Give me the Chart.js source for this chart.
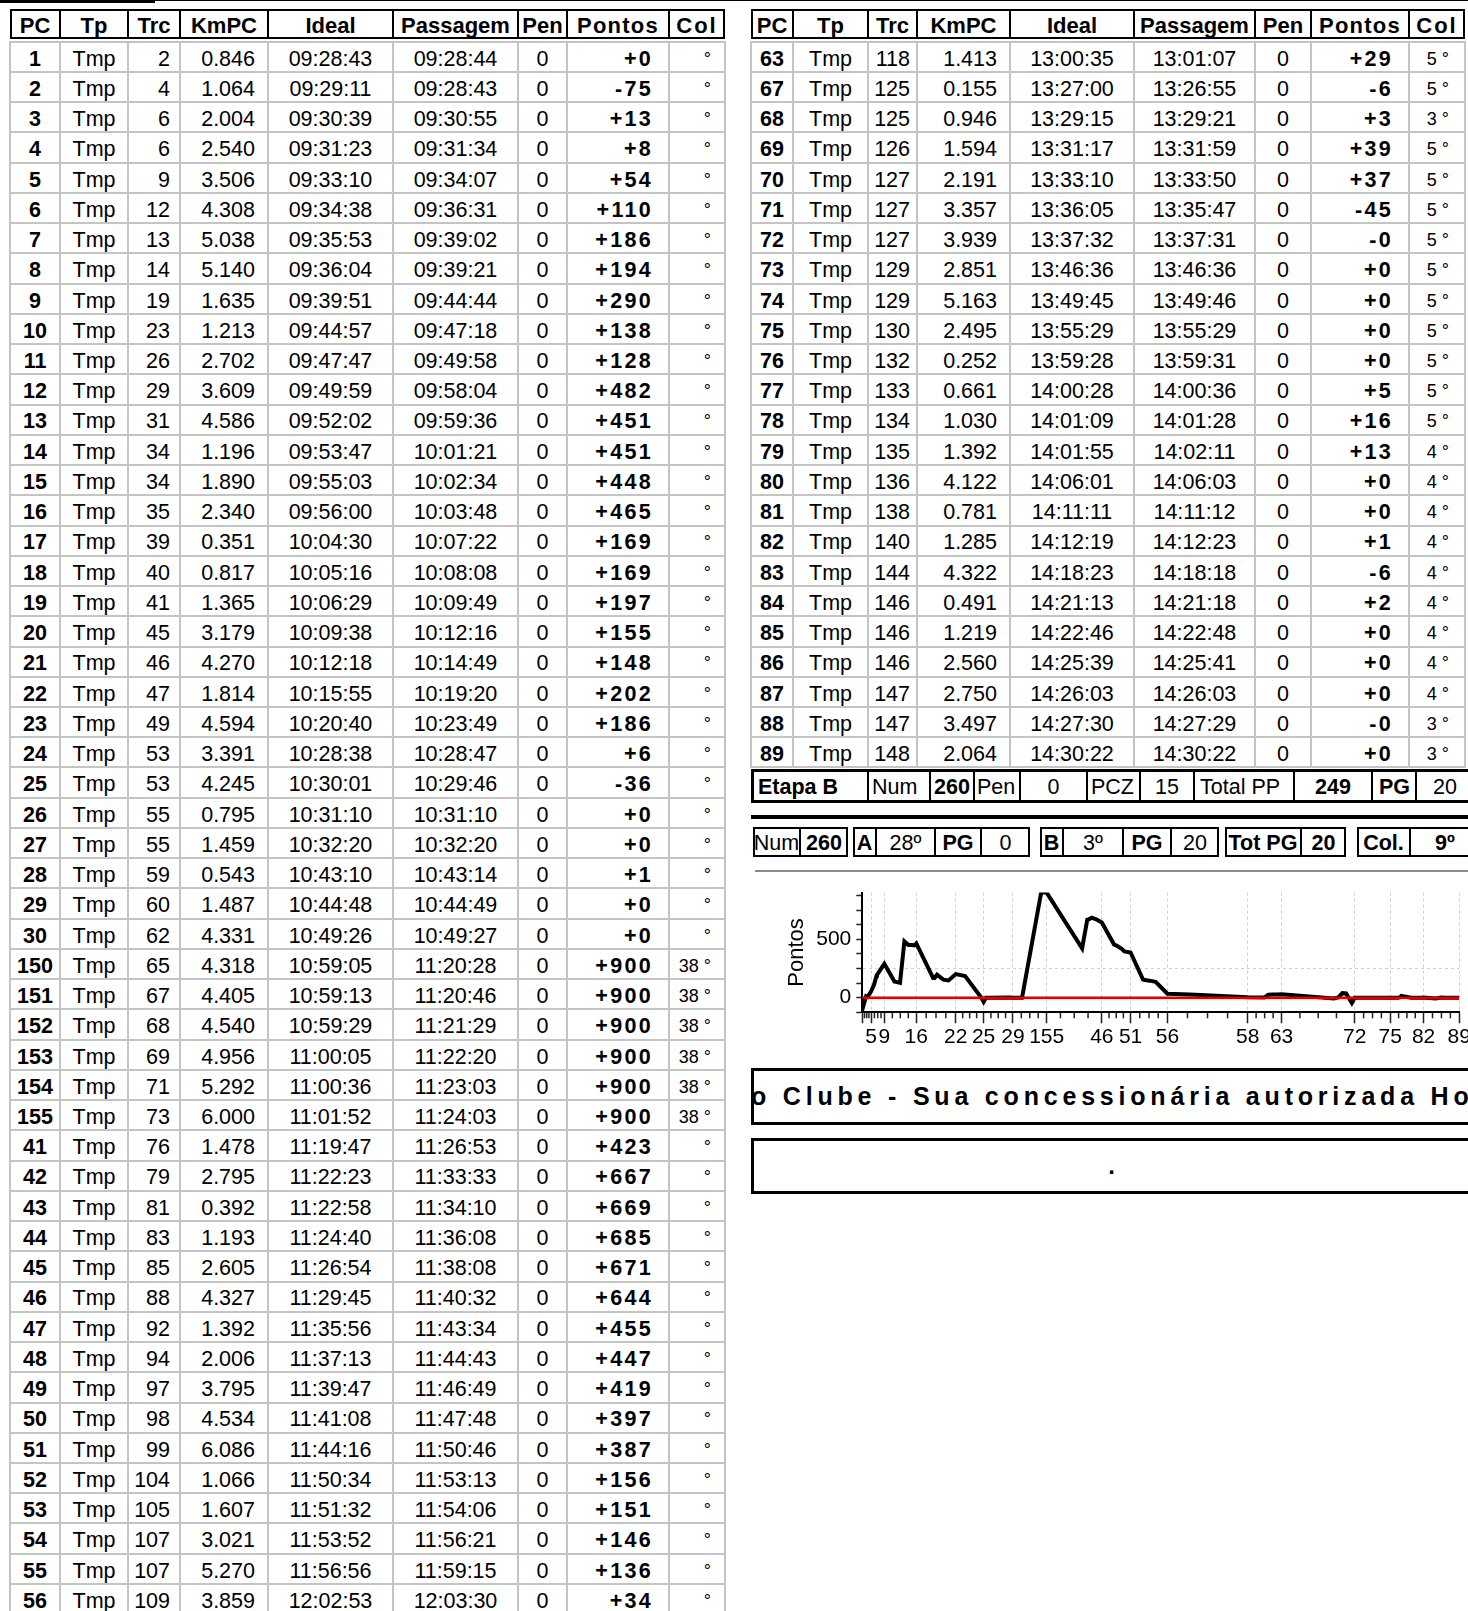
<!DOCTYPE html>
<html>
<head>
<meta charset="utf-8">
<script src="https://cdn.jsdelivr.net/npm/chart.js@4.4.1/dist/chart.umd.min.js"></script>
<style>
html,body{margin:0;padding:0;width:1468px;height:1611px;overflow:hidden;background:#fff;font-family:"Liberation Sans",Arial,sans-serif;color:#000}
.a{position:absolute;box-sizing:border-box}
.t{display:flex;align-items:center;white-space:nowrap}
#chartBox{position:absolute;left:740px;top:875px;width:770px;height:185px}
</style>
</head>
<body>
<div id="chartBox"><canvas id="chart"></canvas></div>
<script>
// ---------- DATA ----------
const leftPC = [1,2,3,4,5,6,7,8,9,10,11,12,13,14,15,16,17,18,19,20,21,22,23,24,25,26,27,28,29,30,150,151,152,153,154,155,41,42,43,44,45,46,47,48,49,50,51,52,53,54,55,56];
const leftTrc = [2,4,6,6,9,12,13,14,19,23,26,29,31,34,34,35,39,40,41,45,46,47,49,53,53,55,55,59,60,62,65,67,68,69,71,73,76,79,81,83,85,88,92,94,97,98,99,104,105,107,107,109];
const leftKm = ['0.846','1.064','2.004','2.540','3.506','4.308','5.038','5.140','1.635','1.213','2.702','3.609','4.586','1.196','1.890','2.340','0.351','0.817','1.365','3.179','4.270','1.814','4.594','3.391','4.245','0.795','1.459','0.543','1.487','4.331','4.318','4.405','4.540','4.956','5.292','6.000','1.478','2.795','0.392','1.193','2.605','4.327','1.392','2.006','3.795','4.534','6.086','1.066','1.607','3.021','5.270','3.859'];
const leftIdeal = ['09:28:43','09:29:11','09:30:39','09:31:23','09:33:10','09:34:38','09:35:53','09:36:04','09:39:51','09:44:57','09:47:47','09:49:59','09:52:02','09:53:47','09:55:03','09:56:00','10:04:30','10:05:16','10:06:29','10:09:38','10:12:18','10:15:55','10:20:40','10:28:38','10:30:01','10:31:10','10:32:20','10:43:10','10:44:48','10:49:26','10:59:05','10:59:13','10:59:29','11:00:05','11:00:36','11:01:52','11:19:47','11:22:23','11:22:58','11:24:40','11:26:54','11:29:45','11:35:56','11:37:13','11:39:47','11:41:08','11:44:16','11:50:34','11:51:32','11:53:52','11:56:56','12:02:53'];
const leftPass = ['09:28:44','09:28:43','09:30:55','09:31:34','09:34:07','09:36:31','09:39:02','09:39:21','09:44:44','09:47:18','09:49:58','09:58:04','09:59:36','10:01:21','10:02:34','10:03:48','10:07:22','10:08:08','10:09:49','10:12:16','10:14:49','10:19:20','10:23:49','10:28:47','10:29:46','10:31:10','10:32:20','10:43:14','10:44:49','10:49:27','11:20:28','11:20:46','11:21:29','11:22:20','11:23:03','11:24:03','11:26:53','11:33:33','11:34:10','11:36:08','11:38:08','11:40:32','11:43:34','11:44:43','11:46:49','11:47:48','11:50:46','11:53:13','11:54:06','11:56:21','11:59:15','12:03:30'];
const leftPontos = ['+0','-75','+13','+8','+54','+110','+186','+194','+290','+138','+128','+482','+451','+451','+448','+465','+169','+169','+197','+155','+148','+202','+186','+6','-36','+0','+0','+1','+0','+0','+900','+900','+900','+900','+900','+900','+423','+667','+669','+685','+671','+644','+455','+447','+419','+397','+387','+156','+151','+146','+136','+34'];
const leftCol = ['°','°','°','°','°','°','°','°','°','°','°','°','°','°','°','°','°','°','°','°','°','°','°','°','°','°','°','°','°','°','38 °','38 °','38 °','38 °','38 °','38 °','°','°','°','°','°','°','°','°','°','°','°','°','°','°','°','°'];

// PCs below the visible part of the left table
const hiddenPC = [57,58,59,60,61,62];
const hiddenIdeal = ['12:14:16','12:43:25','12:51:55','12:53:56','12:56:12','12:58:14'];
const hiddenPontos = ['+28','+3','+2','+26','+28','+28'];

const rightPC = [63,67,68,69,70,71,72,73,74,75,76,77,78,79,80,81,82,83,84,85,86,87,88,89];
const rightTrc = [118,125,125,126,127,127,127,129,129,130,132,133,134,135,136,138,140,144,146,146,146,147,147,148];
const rightKm = ['1.413','0.155','0.946','1.594','2.191','3.357','3.939','2.851','5.163','2.495','0.252','0.661','1.030','1.392','4.122','0.781','1.285','4.322','0.491','1.219','2.560','2.750','3.497','2.064'];
const rightIdeal = ['13:00:35','13:27:00','13:29:15','13:31:17','13:33:10','13:36:05','13:37:32','13:46:36','13:49:45','13:55:29','13:59:28','14:00:28','14:01:09','14:01:55','14:06:01','14:11:11','14:12:19','14:18:23','14:21:13','14:22:46','14:25:39','14:26:03','14:27:30','14:30:22'];
const rightPass = ['13:01:07','13:26:55','13:29:21','13:31:59','13:33:50','13:35:47','13:37:31','13:46:36','13:49:46','13:55:29','13:59:31','14:00:36','14:01:28','14:02:11','14:06:03','14:11:12','14:12:23','14:18:18','14:21:18','14:22:48','14:25:41','14:26:03','14:27:29','14:30:22'];
const rightPontos = ['+29','-6','+3','+39','+37','-45','-0','+0','+0','+0','+0','+5','+16','+13','+0','+0','+1','-6','+2','+0','+0','+0','-0','+0'];
const rightCol = ['5 °','5 °','3 °','5 °','5 °','5 °','5 °','5 °','5 °','5 °','5 °','5 °','5 °','4 °','4 °','4 °','4 °','4 °','4 °','4 °','4 °','4 °','3 °','3 °'];

const headers = ['PC','Tp','Trc','KmPC','Ideal','Passagem','Pen','Pontos','Col'];
const tpText = 'Tmp';
const penText = '0';

const etapaTexts = ['Etapa B','Num','260','Pen','0','PCZ','15','Total PP','249','PG','20'];
const numBoxes = [
  [['Num',false],['260',true]],
  [['A',true],['28º',false],['PG',true],['0',false]],
  [['B',true],['3º',false],['PG',true],['20',false]],
  [['Tot PG',true],['20',true]],
  [['Col.',true],['9º',true]]
];
const bannerText = 'o Clube - Sua concessionária autorizada Ho';

// chart axis ticks
const xMajorPC = [1,5,9,16,22,25,29,155,46,51,56,58,63,72,75,82,89];
const xTickLabels = ['','5','9','16','22','25','29','155','46','51','56','58','63','72','75','82','89'];
const yTickValues = [-125,0,125,250,375,500,625,750,875];
const yTickLabels = ['','0','','','','500','','',''];
const yGridValues = [250];

// ---------- LAYOUT HELPERS ----------
function px(v){return v+'px';}
function box(x,y,w,h,st){const d=document.createElement('div');d.className='a';Object.assign(d.style,{left:px(x),top:px(y),width:px(w),height:px(h)},st||{});document.body.appendChild(d);return d;}
function txt(x0,x1,y,h,text,o){o=o||{};const d=document.createElement('div');d.className='a t';
  Object.assign(d.style,{left:px(x0),top:px(y+(o.dy||0)),width:px(x1-x0),height:px(h),
    justifyContent:o.al==='l'?'flex-start':(o.al==='r'?'flex-end':'center'),
    paddingLeft:px(o.pl||0),paddingRight:px(o.pr||0),fontSize:px(o.fs||21.5),
    fontWeight:o.b?'bold':'normal',letterSpacing:px(o.ls||0)});
  d.textContent=text;document.body.appendChild(d);return d;}

const ROW0 = 41.7, RH = 30.24, GRID = '#c4c4c4';

function buildTable(bounds, rows, trcPad, colPad){
  const x0=bounds[0], x1=bounds[bounds.length-1];
  box(x0,9,x1-x0,30,{border:'2px solid #000'});
  for(let i=1;i<bounds.length-1;i++) box(bounds[i]-1,9,2,30,{background:'#000'});
  headers.forEach((h,i)=>{
    const ls=h==='Pontos'?1.2:(h==='Col'?2:0);
    txt(bounds[i],bounds[i+1],9,30,h,{b:true,fs:22,ls:ls,dy:2});
  });
  const n=rows.length, bodyH=n*RH;
  for(let i=0;i<=n;i++) box(x0-1,ROW0+i*RH-1,x1-x0+2,2,{background:GRID});
  bounds.forEach(b=>box(b-1,ROW0-1,2,bodyH+2,{background:GRID}));
  const spec=[{b:true},{},{al:'r',pr:trcPad},{al:'r',pr:13},{},{},{},{al:'r',pr:16,b:true,ls:2.3},{al:'r',pr:colPad,fs:18}];
  rows.forEach((r,k)=>{
    const y=ROW0+k*RH;
    r.forEach((v,i)=>txt(bounds[i],bounds[i+1],y,RH,String(v),Object.assign({dy:2.3},spec[i])));
  });
}

const leftBounds=[10,60,128,180,268,393,518,567,669,725];
const rightBounds=[751,793,868,917,1010,1134,1255,1311,1409,1465];
buildTable(leftBounds, leftPC.map((p,i)=>[p,tpText,leftTrc[i],leftKm[i],leftIdeal[i],leftPass[i],penText,leftPontos[i],leftCol[i]]), 10, 14);
buildTable(rightBounds, rightPC.map((p,i)=>[p,tpText,rightTrc[i],rightKm[i],rightIdeal[i],rightPass[i],penText,rightPontos[i],rightCol[i]]), 7, 16);

// top remnant lines
box(0,0,1468,1,{background:'#000'});
box(0,0,155,3,{background:'#000'});

// Etapa row
const eb=[751,868,930,974,1020,1087,1140,1194,1294,1372,1416,1480];
box(751,769,730,34,{border:'3px solid #000'});
for(let i=1;i<eb.length-1;i++) box(eb[i]-1,769,2,34,{background:'#000'});
const eSpec=[{b:true,al:'l',pl:7},{al:'l',pl:4},{b:true},{al:'l',pl:3},{},{al:'l',pl:4},{},{al:'l',pl:6},{b:true},{b:true,al:'l',pl:7},{al:'l',pl:17}];
etapaTexts.forEach((t,i)=>txt(eb[i],eb[i+1],769,34,t,Object.assign({dy:1},eSpec[i])));

// separator
box(751,815,730,4,{background:'#000'});

// Num row boxes
const nbBounds=[[753,800,848],[853,876,935,981,1030],[1040,1063,1123,1171,1219],[1225,1301,1346],[1357,1410,1480]];
numBoxes.forEach((cells,k)=>{
  const bb=nbBounds[k];
  box(bb[0],827,bb[bb.length-1]-bb[0],30,{border:'2px solid #000'});
  for(let i=1;i<bb.length-1;i++) box(bb[i]-1,827,2,30,{background:'#000'});
  cells.forEach((c,i)=>txt(bb[i],bb[i+1],827,30,c[0],{b:c[1],dy:1}));
});
box(755,870,730,2,{background:'#8a8a8a'});

// banner
const ban=box(751,1068,730,57,{border:'3px solid #000',overflow:'hidden'});
const bt=document.createElement('div');bt.className='a t';
Object.assign(bt.style,{left:'-3px',top:'0',height:'100%',fontSize:'25px',fontWeight:'bold',letterSpacing:'4.8px'});
bt.textContent=bannerText;ban.appendChild(bt);
box(751,1138,730,56,{border:'3px solid #000'});
txt(751,1472,1138,56,'.',{b:true,fs:24});

// ---------- CHART ----------
function toSec(s){const p=s.split(':').map(Number);return p[0]*3600+p[1]*60+p[2];}
const allPC=leftPC.concat(hiddenPC,rightPC);
const allIdeal=leftIdeal.concat(hiddenIdeal,rightIdeal);
const allPts=leftPontos.concat(hiddenPontos,rightPontos).map(Number);
const t0=toSec(allIdeal[0]);
const pts=allIdeal.map((s,i)=>({x:toSec(s)-t0,y:allPts[i]}));
const tMax=pts[pts.length-1].x;
const majorT=xMajorPC.map(p=>toSec(allIdeal[allPC.indexOf(p)])-t0);

const minorTicks={id:'minorTicks',afterDraw(chart){
  const xs=chart.scales.x,ctx=chart.ctx;
  ctx.save();ctx.strokeStyle='#222';ctx.lineWidth=1.5;
  for(let k=0;k<majorT.length-1;k++){
    const a=majorT[k],b=majorT[k+1];
    for(let j=1;j<4;j++){
      const p=xs.getPixelForValue(a+(b-a)*j/4);
      ctx.beginPath();ctx.moveTo(p,xs.top);ctx.lineTo(p,xs.top+6);ctx.stroke();
    }
  }
  ctx.restore();
}};

Chart.defaults.font.family='"Liberation Sans", Arial, sans-serif';
Chart.defaults.color='#000';
new Chart(document.getElementById('chart'),{
  type:'line',
  data:{datasets:[
    {data:[{x:0,y:0},{x:tMax,y:0}],borderColor:'#e00000',borderWidth:2.5,pointRadius:0,clip:0},
    {data:pts,borderColor:'#000',borderWidth:4,pointRadius:0,clip:0}
  ]},
  options:{
    responsive:true,maintainAspectRatio:false,animation:false,devicePixelRatio:1,events:[],
    layout:{padding:{top:14.3,right:50.7,bottom:0,left:0}},
    plugins:{legend:{display:false},tooltip:{enabled:false}},
    scales:{
      x:{type:'linear',min:0,max:tMax,
        afterBuildTicks:s=>{s.ticks=majorT.map(v=>({value:v}));},
        afterFit:s=>{s.height=47.7;},
        ticks:{autoSkip:false,maxRotation:0,minRotation:0,padding:1,color:'#000',font:{size:21},callback:(v,i)=>xTickLabels[i]},
        grid:{color:'#d0d0d0',lineWidth:1,tickLength:11,tickColor:'#222',tickWidth:1.5},
        border:{display:true,color:'#000',width:2,dash:[3,3]}
      },
      y:{type:'linear',min:-125,max:900,
        afterBuildTicks:s=>{s.ticks=yTickValues.map(v=>({value:v}));},
        afterFit:s=>{s.width=122.3;},
        ticks:{autoSkip:false,padding:5,color:'#000',font:{size:21},callback:(v,i)=>yTickLabels[i]},
        grid:{color:c=>(c.tick&&yGridValues.includes(c.tick.value))?'#d0d0d0':'rgba(0,0,0,0)',lineWidth:1,tickLength:6,tickColor:'#222',tickWidth:1.5},
        border:{display:true,color:'#000',width:2,dash:[3,3]},
        title:{display:true,text:'Pontos',color:'#000',font:{size:22},padding:{top:43.5,bottom:0}}
      }
    }
  },
  plugins:[minorTicks]
});
</script>
</body>
</html>
